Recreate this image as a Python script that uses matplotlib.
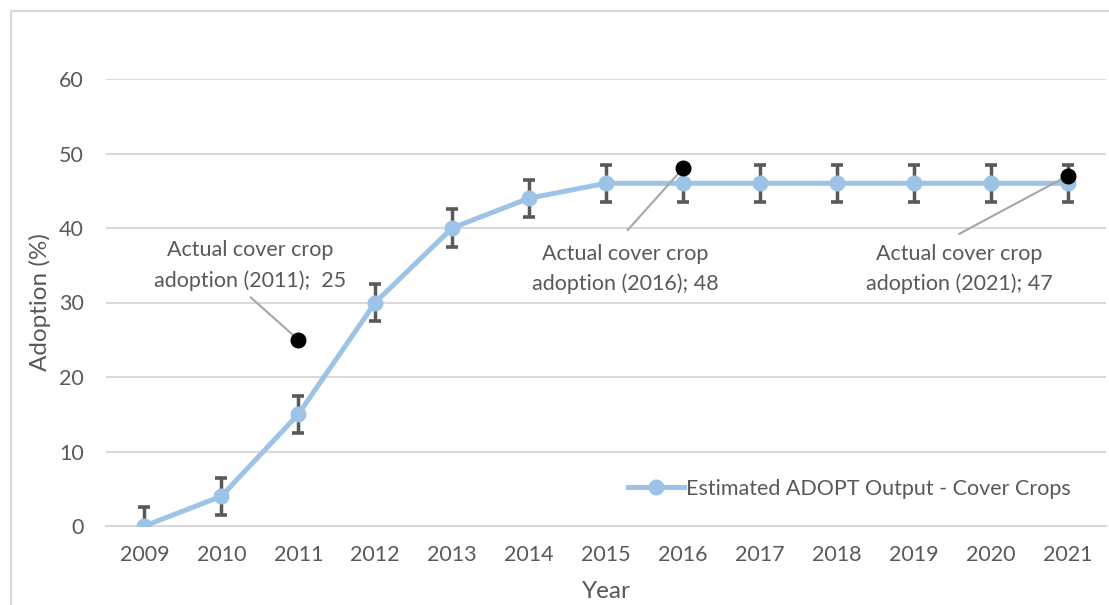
import matplotlib
matplotlib.use("Agg")
import matplotlib.pyplot as plt
from matplotlib.patches import Rectangle
import numpy as np

years = [2009, 2010, 2011, 2012, 2013, 2014, 2015, 2016, 2017, 2018, 2019, 2020, 2021]
estimated = [0, 4, 15, 30, 40, 44, 46, 46, 46, 46, 46, 46, 46]
error = [2.5] * 13
actual_years = [2011, 2016, 2021]
actual_values = [25, 48, 47]
actual_labels = ["Actual cover crop\nadoption (2011);  25",
                 "Actual cover crop\nadoption (2016); 48",
                 "Actual cover crop\nadoption (2021); 47"]
# label text centre (category position, value)
label_pos = [(2010.37, 35.0), (2015.25, 34.5), (2019.59, 34.5)]
line_start = [(2010.38, 30.7), (2015.28, 39.7), (2019.59, 39.2)]

plt.rcParams['font.family'] = ['Lato', 'DejaVu Sans']
TXT = '#595959'
GRID = '#D9D9D9'
FS = 15.5
FS_TITLE = 17.5

fig = plt.figure(figsize=(11.09, 6.05), dpi=100)
fig.patches.append(Rectangle((11/1109, -0.1), 1.2, 1 - 11/605 + 0.1,
                             transform=fig.transFigure, fill=False,
                             edgecolor=GRID, linewidth=1.5))
ax = fig.add_axes([106/1109, 1 - 526/605, (1106 - 106)/1109, (526 - 79)/605])

x = np.arange(len(years))
ax.errorbar(x, estimated, yerr=error, fmt='none', ecolor='#595959',
            elinewidth=2.5, capsize=4.5, capthick=2.6, zorder=2)
ax.plot(x, estimated, color='#9DC3E6', linewidth=3.6, marker='o',
        markersize=10.5, zorder=3, label='Estimated ADOPT Output - Cover Crops')

ax_idx = [years.index(y) for y in actual_years]
ax.scatter(ax_idx, actual_values, s=110, color='black', zorder=5)

for i, (lab, (lx, ly), (sx, sy)) in enumerate(zip(actual_labels, label_pos, line_start)):
    px = ax_idx[i]
    ax.annotate('', xy=(px, actual_values[i]), xytext=(sx - 2009, sy),
                arrowprops=dict(arrowstyle='-', color='#A6A6A6', lw=1.5,
                                shrinkA=0, shrinkB=0), zorder=4)
    ax.text(lx - 2009, ly, lab, ha='center', va='center', fontsize=FS,
            color=TXT, linespacing=1.6)

ax.set_xlim(-0.5, len(years) - 0.5)
ax.set_ylim(0, 60)
ax.set_xticks(x)
ax.set_xticklabels([str(y) for y in years])
ax.set_yticks(range(0, 61, 10))
ax.yaxis.grid(True, color=GRID, linewidth=1.5)
ax.set_axisbelow(True)
for s in ['top', 'right', 'left']:
    ax.spines[s].set_visible(False)
ax.spines['bottom'].set_color(GRID)
ax.spines['bottom'].set_linewidth(1.5)
ax.tick_params(axis='both', length=0, labelsize=FS, labelcolor=TXT)
ax.tick_params(axis='x', pad=14)
ax.tick_params(axis='y', pad=16)
ax.set_clip_on(False)

ax.set_xlabel('Year', fontsize=FS_TITLE, color=TXT, labelpad=11)
ax.set_ylabel('Adoption (%)', fontsize=FS_TITLE, color=TXT, labelpad=6)

ax.legend(loc='center left', bbox_to_anchor=((628 - 106)/1000, (526 - 489)/447),
          frameon=False, fontsize=FS, labelcolor=TXT, handlelength=2.6,
          handletextpad=0.1, borderpad=0, borderaxespad=0)

fig.savefig('out.png', dpi=100)
